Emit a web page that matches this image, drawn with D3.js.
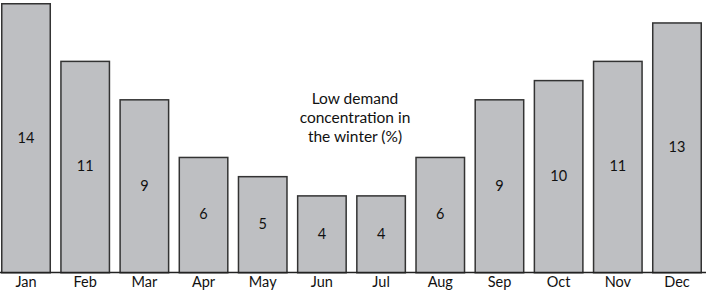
<!DOCTYPE html>
<html><head><meta charset="utf-8">
<script src="https://cdn.jsdelivr.net/npm/d3@7"></script>
<style>body{margin:0;background:#fff}svg{display:block}</style>
</head><body>
<script>
const months = ["Jan","Feb","Mar","Apr","May","Jun","Jul","Aug","Sep","Oct","Nov","Dec"];
const values = [14,11,9,6,5,4,4,6,9,10,11,13];
const noteLines = ["Low demand","concentration in","the winter (%)"];

const W = 706, H = 302;
const svg = d3.select("body").append("svg").attr("width", W).attr("height", H);
const font = "Lato, 'Open Sans', sans-serif";

const x = d3.scaleBand().domain(months).range([1, 702]).paddingInner(0.155).paddingOuter(0);
const y = d3.scaleLinear().domain([0, 14]).range([272, 3]);

svg.selectAll("rect.bar").data(values).join("rect")
  .attr("class","bar")
  .attr("x", (d,i) => x(months[i]) + 0.75)
  .attr("y", d => y(d) + 0.75)
  .attr("width", x.bandwidth() - 1.5)
  .attr("height", d => y(0) - y(d))
  .attr("fill", "#bebfc2")
  .attr("stroke", "#333")
  .attr("stroke-width", 1.5);

svg.selectAll("text.val").data(values).join("text")
  .attr("class","val")
  .attr("x", (d,i) => x(months[i]) + x.bandwidth()/2)
  .attr("y", d => (y(d) + y(0))/2)
  .attr("dy", "0.35em")
  .attr("text-anchor","middle")
  .attr("font-family", font).attr("font-size", 14.5).attr("fill","#111")
  .text(d => d);

const axis = d3.axisBottom(x).tickSize(0).tickPadding(5);
const g = svg.append("g").attr("transform", `translate(0,${y(0)})`).call(axis);
g.select(".domain").remove();
g.selectAll("text").attr("font-family", font).attr("font-size", 14.5).attr("fill","#111");
g.append("line").attr("x1",0).attr("x2",W).attr("y1",0.5).attr("y2",0.5)
  .attr("stroke","#222").attr("stroke-width",1.5);

svg.selectAll("text.note").data(noteLines).join("text")
  .attr("class","note")
  .attr("x", 355).attr("y", (d,i) => 99 + i*19)
  .attr("dy","0.35em").attr("text-anchor","middle")
  .attr("font-family", font).attr("font-size", 15.5).attr("fill","#111")
  .text(d => d);
</script>
</body></html>
